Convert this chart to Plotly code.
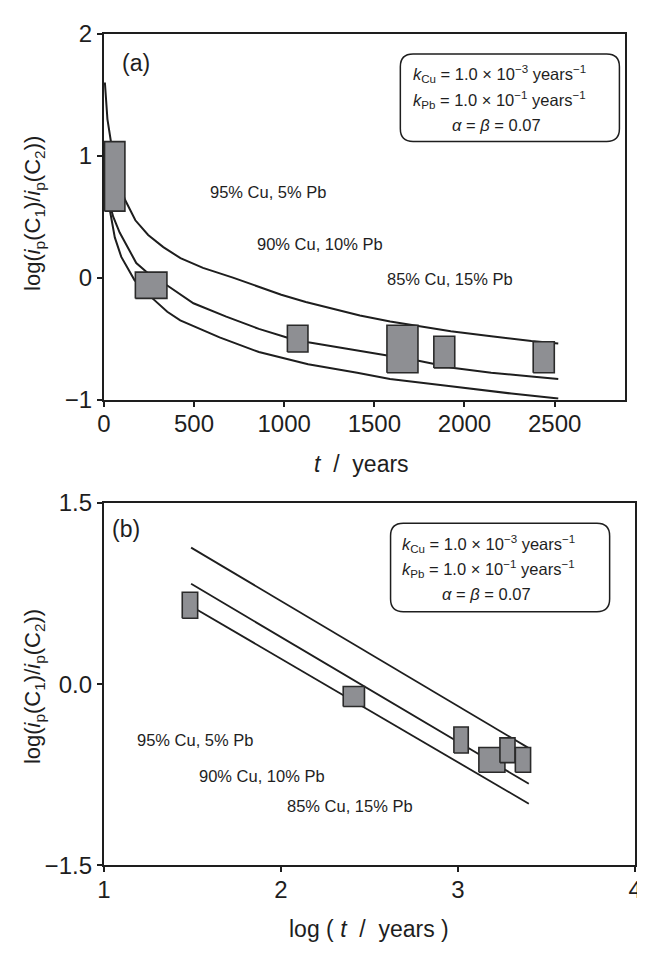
import plotly.graph_objects as go

# ---------------- data ----------------
# Panel (a): model curves, log(ip(C1)/ip(C2)) vs t (years)
cu95_t = [6, 20, 39, 70, 117, 175, 246, 330, 425, 550, 716, 850, 984, 1120, 1253, 1420, 1588, 1750, 1924, 2148, 2371, 2520]
cu95_v = [1.60, 1.30, 1.12, 0.85, 0.64, 0.47, 0.35, 0.25, 0.16, 0.08, 0.0, -0.07, -0.14, -0.20, -0.25, -0.31, -0.36, -0.40, -0.44, -0.48, -0.52, -0.54]
cu90_t = [30, 52, 88, 134, 180, 250, 348, 497, 679, 860, 1015, 1133, 1405, 1569, 1738, 1942, 2148, 2371, 2520]
cu90_v = [0.62, 0.50, 0.37, 0.24, 0.12, 0.03, -0.06, -0.21, -0.32, -0.42, -0.49, -0.53, -0.60, -0.64, -0.68, -0.74, -0.78, -0.81, -0.83]
cu85_t = [28, 61, 97, 170, 270, 352, 424, 642, 860, 1133, 1405, 1587, 1924, 2260, 2520]
cu85_v = [0.60, 0.33, 0.17, -0.02, -0.17, -0.28, -0.35, -0.49, -0.61, -0.71, -0.78, -0.83, -0.89, -0.95, -0.99]

# Panel (a): measured boxes (t range, value range)
a_box_t0 = [4, 175, 1018, 1570, 1830, 2381]
a_box_t1 = [117, 350, 1132, 1742, 1946, 2498]
a_box_v0 = [0.545, -0.17, -0.61, -0.78, -0.74, -0.78]
a_box_v1 = [1.115, 0.045, -0.39, -0.39, -0.48, -0.525]

# Panel (b): straight model lines vs log(t)
b_line_x = [1.493, 3.40]
b_line_95 = [1.13, -0.53]
b_line_90 = [0.83, -0.825]
b_line_85 = [0.645, -0.99]

# Panel (b): measured boxes
b_box_x0 = [1.443, 2.352, 2.977, 3.118, 3.237, 3.324]
b_box_x1 = [1.530, 2.472, 3.058, 3.265, 3.322, 3.410]
b_box_v0 = [0.545, -0.185, -0.57, -0.73, -0.65, -0.73]
b_box_v1 = [0.76, -0.02, -0.355, -0.525, -0.445, -0.525]

curve_labels = ["95% Cu, 5% Pb", "90% Cu, 10% Pb", "85% Cu, 15% Pb"]
a_ticks_x = [0, 500, 1000, 1500, 2000, 2500]
a_ticks_y = [-1, 0, 1, 2]
b_ticks_x = [1, 2, 3, 4]
b_ticks_y = [-1.5, 0.0, 1.5]

# ---------------- figure ----------------
# The page body has an 8 px default margin, so the figure is drawn 8 px in from
# the window's top-left corner; reference pixel positions are mapped accordingly.
OFF = 8
W, H = 645 - OFF, 957 - OFF
FONT = "Liberation Sans, Arial, Helvetica, sans-serif"
INK = "#1e1e1e"
BOXFILL = "#8e8f93"

def px(X):
    return (X - OFF) / W

def py(Y):
    return 1 - (Y - OFF) / H

fig = go.Figure()

line_style = dict(color=INK, width=2)
for tt, vv in [(cu95_t, cu95_v), (cu90_t, cu90_v), (cu85_t, cu85_v)]:
    fig.add_trace(go.Scatter(x=tt, y=vv, mode="lines", line=line_style,
                             xaxis="x", yaxis="y", showlegend=False, hoverinfo="skip"))

def add_boxes(x0s, x1s, y0s, y1s, xa, ya):
    for x0, x1, y0, y1 in zip(x0s, x1s, y0s, y1s):
        fig.add_trace(go.Scatter(
            x=[x0, x1, x1, x0, x0], y=[y0, y0, y1, y1, y0],
            mode="lines", fill="toself", fillcolor=BOXFILL,
            line=dict(color="#2a2a2a", width=1.6),
            xaxis=xa, yaxis=ya, showlegend=False, hoverinfo="skip"))

add_boxes(a_box_t0, a_box_t1, a_box_v0, a_box_v1, "x", "y")

for vv in [b_line_95, b_line_90, b_line_85]:
    fig.add_trace(go.Scatter(x=b_line_x, y=vv, mode="lines", line=dict(color=INK, width=1.8),
                             xaxis="x2", yaxis="y2", showlegend=False, hoverinfo="skip"))

add_boxes(b_box_x0, b_box_x1, b_box_v0, b_box_v1, "x2", "y2")

axis_common = dict(showline=True, linewidth=2, linecolor=INK, mirror=True,
                   ticks="outside", ticklen=5, tickwidth=2, tickcolor=INK,
                   showgrid=False, zeroline=False, ticklabeloverflow="allow",
                   tickfont=dict(family=FONT, size=24, color=INK))

fig.update_layout(
    width=W, height=H,
    margin=dict(l=0, r=0, t=0, b=0),
    paper_bgcolor="white", plot_bgcolor="white",
    font=dict(family=FONT, color=INK),
    xaxis=dict(domain=[px(98.8), px(631.7)], range=[0, 2890], anchor="y",
               tickvals=a_ticks_x, ticklabelstandoff=-3, **axis_common),
    yaxis=dict(domain=[py(396.7), py(20)], range=[-1, 2], anchor="x",
               tickvals=a_ticks_y, **axis_common),
    xaxis2=dict(domain=[px(98.8), px(642)], range=[1, 4], anchor="y2",
                tickvals=b_ticks_x, ticklabelstandoff=-3, **axis_common),
    yaxis2=dict(domain=[py(876), py(503)], range=[-1.5, 1.5], anchor="x2",
                tickvals=b_ticks_y, tickformat=".1f", **axis_common),
)

def ann(text, X, Y, size, xanchor="center", textangle=0):
    fig.add_annotation(text=text, x=px(X), y=py(Y), xref="paper", yref="paper",
                       showarrow=False, xanchor=xanchor, yanchor="middle",
                       textangle=textangle,
                       font=dict(family=FONT, size=size, color=INK))

ytitle = "log(<i>i</i><sub>p</sub>(C<sub>1</sub>)/<i>i</i><sub>p</sub>(C<sub>2</sub>))"
# panel a texts
ann("(a)", 132, 50, 23)
ann(curve_labels[0], 267, 183, 16.5)
ann(curve_labels[1], 320, 236, 16.5)
ann(curve_labels[2], 453, 273, 16.5)
ann("<i>t</i>  /  years", 362, 463, 23)
ann(ytitle, 28, 205, 22, textangle=-90)
# panel b texts
ann("(b)", 122, 530, 23)
ann(curve_labels[0], 192, 747, 16.5)
ann(curve_labels[1], 261, 784, 16.5)
ann(curve_labels[2], 351, 815, 16.5)
ann("log ( <i>t</i>  /  years )", 370, 942, 23)
ann(ytitle, 27, 692, 22, textangle=-90)

# parameter boxes
kcu = "<i>k</i><sub>Cu</sub> = 1.0 × 10<sup>−3</sup> years<sup>−1</sup>"
kpb = "<i>k</i><sub>Pb</sub> = 1.0 × 10<sup>−1</sup> years<sup>−1</sup>"
ab = "<i>α</i> = <i>β</i> = 0.07"

def rounded(X0, Y0, X1, Y1, r):
    pts = [("M", X0 + r, Y0), ("L", X1 - r, Y0), ("Q", X1, Y0, X1, Y0 + r),
           ("L", X1, Y1 - r), ("Q", X1, Y1, X1 - r, Y1), ("L", X0 + r, Y1),
           ("Q", X0, Y1, X0, Y1 - r), ("L", X0, Y0 + r), ("Q", X0, Y0, X0 + r, Y0)]
    s = ""
    for p in pts:
        cmd = p[0]
        coords = p[1:]
        parts = []
        for i in range(0, len(coords), 2):
            parts.append(f"{px(coords[i]):.5f},{py(coords[i+1]):.5f}")
        s += cmd + " " + " ".join(parts) + " "
    return s + "Z"

fig.add_shape(type="path", path=rounded(402, 41, 626, 131, 13), xref="paper", yref="paper",
              line=dict(color=INK, width=1.5), fillcolor="rgba(0,0,0,0)")
fig.add_shape(type="path", path=rounded(392, 524, 616, 615, 13), xref="paper", yref="paper",
              line=dict(color=INK, width=1.5), fillcolor="rgba(0,0,0,0)")

ann(kcu, 413, 62, 16.5, xanchor="left")
ann(kpb, 413, 88, 16.5, xanchor="left")
ann(ab, 500, 114, 16.5)
ann(kcu, 402, 545, 16.5, xanchor="left")
ann(kpb, 402, 571, 16.5, xanchor="left")
ann(ab, 490, 597, 16.5)

fig.write_html("out.html")
